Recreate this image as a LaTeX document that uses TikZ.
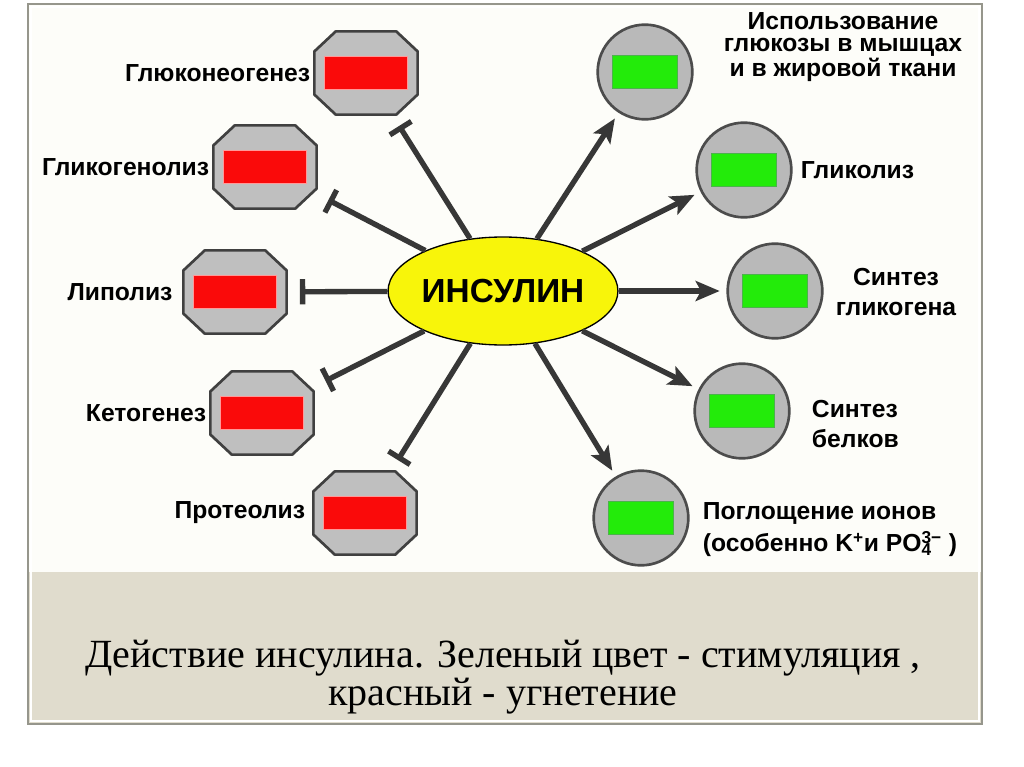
\documentclass[tikz,border=0pt]{standalone}
\usepackage{fontspec}
\usetikzlibrary{shapes.geometric,arrows.meta,positioning}
\newfontfamily\labfont{Liberation Sans}
\newfontfamily\capfont{Liberation Serif}
\definecolor{paper}{RGB}{253,253,249}
\definecolor{band}{RGB}{224,220,205}
\definecolor{framegray}{RGB}{150,150,140}
\definecolor{linegray}{RGB}{55,55,55}
\definecolor{inhred}{RGB}{250,10,10}
\definecolor{stimgreen}{RGB}{35,235,10}
\definecolor{insyellow}{RGB}{248,245,10}

\tikzset{
  inhib/.style={draw=linegray, line width=4pt, -{Bar[width=19pt,length=3pt]}, shorten >=10pt},
  stim/.style={draw=linegray, line width=4pt, -{Stealth[length=18pt,width=15pt,inset=4pt]}, shorten >=5pt},
  octo/.style={rectangle, minimum width=77pt, minimum height=62pt, inner sep=0pt},
  octoline/.style={draw=black!75, line width=2pt, fill=gray!50, line join=round},
  ball/.style={circle, draw=black!70, line width=2pt, fill=gray!55, minimum size=71pt, inner sep=0pt},
  redbar/.style={rectangle, fill=inhred, draw=red!40, line width=0.6pt, minimum width=62pt, minimum height=25pt, inner sep=0pt},
  greenbar/.style={rectangle, fill=stimgreen, draw=green!40!gray, line width=0.6pt, minimum width=49pt, minimum height=25pt, inner sep=0pt},
  lab/.style={font=\labfont\bfseries\fontsize{18.5}{22}\selectfont, inner sep=2pt}
}

\begin{document}
\begin{tikzpicture}[x=0.75pt,y=-0.75pt]
\useasboundingbox (0,0) rectangle (1024,767);
\fill[white] (0,0) rectangle (1024,767);
\fill[paper] (28,4) rectangle (982,724);
\fill[band] (28,572) rectangle (982,724);
\draw[framegray, line width=1.5pt] (28,4) rectangle (982,724);
\draw[white, line width=1pt] (31,7) rectangle (979,721);

\node[ellipse, draw=black, line width=1pt, fill=insyellow, minimum width=127pt, minimum height=81pt, inner sep=0pt,
  font=\labfont\bfseries\fontsize{25}{30}\selectfont] (ins) at (503,291) {ИНСУЛИН};

% inhibited
\node[octo] (gneo) at (366,73) {};
\node[octo] (glys) at (265,167) {};
\node[octo] (lipo) at (235,292) {};
\node[octo] (keto) at (262,413) {};
\node[octo] (prtl) at (365,513) {};
\foreach \n in {gneo,glys,lipo,keto,prtl}{
  \filldraw[octoline] ([xshift=16pt]\n.north west) -- ([xshift=-16pt]\n.north east)
    -- ([yshift=-15pt]\n.north east) -- ([yshift=15pt]\n.south east)
    -- ([xshift=-16pt]\n.south east) -- ([xshift=16pt]\n.south west)
    -- ([yshift=15pt]\n.south west) -- ([yshift=-15pt]\n.north west) -- cycle;
  \node[redbar] at (\n) {};
}

\node[lab, left=1pt of gneo] (gneo-t) {Глюконеогенез};
\node[lab, left=1pt of glys] (glys-t) {Гликогенолиз};
\node[lab, left=6pt of lipo] (lipo-t) {Липолиз};
\node[lab, left=1pt of keto] (keto-t) {Кетогенез};
\node[lab, left=4pt of prtl] (prtl-t) {Протеолиз};

% stimulated
\node[ball] (gluc) at (645,72) {};
\node[ball] (glyk) at (744,170) {};
\node[ball] (gsyn) at (775,291) {};
\node[ball] (psyn) at (742,411) {};
\node[ball] (ions) at (641,518) {};
\foreach \n in {gluc,glyk,gsyn,psyn,ions}
  \node[greenbar] at (\n) {};

\node[lab, align=center, font=\labfont\bfseries\fontsize{18.5}{17}\selectfont] (gluc-t) at (843,47)
  {Использование\\глюкозы в мышцах\\и в жировой ткани};
\node[lab, right=4pt of glyk] (glyk-t) {Гликолиз};
\node[lab, align=center] (gsyn-t) at (896,292) {Синтез\\гликогена};
\node[lab, align=left, anchor=west] (psyn-t) at (809,424) {Синтез\\белков};
\node[lab, align=left, anchor=west, font=\labfont\bfseries\fontsize{18.5}{24}\selectfont] (ions-t) at (700,530)
  {Поглощение ионов\\(особенно K\textsuperscript{+}и PO\rlap{\textsubscript{4}}\textsuperscript{3−} )};

\draw[inhib] (ins) -- (gneo);
\draw[inhib] (ins) -- (glys);
\draw[inhib] (ins) -- (lipo);
\draw[inhib] (ins) -- (keto);
\draw[inhib] (ins) -- (prtl);

\draw[stim] (ins) -- (gluc);
\draw[stim] (ins) -- (glyk);
\draw[stim] (ins) -- (gsyn);
\draw[stim] (ins) -- (psyn);
\draw[stim] (ins) -- (ions);

\node[align=center, font=\capfont\fontsize{30}{28.5}\selectfont] (cap) at (503,677)
  {Действие инсулина. Зеленый цвет - стимуляция ,\\красный - угнетение};
\end{tikzpicture}
\end{document}
